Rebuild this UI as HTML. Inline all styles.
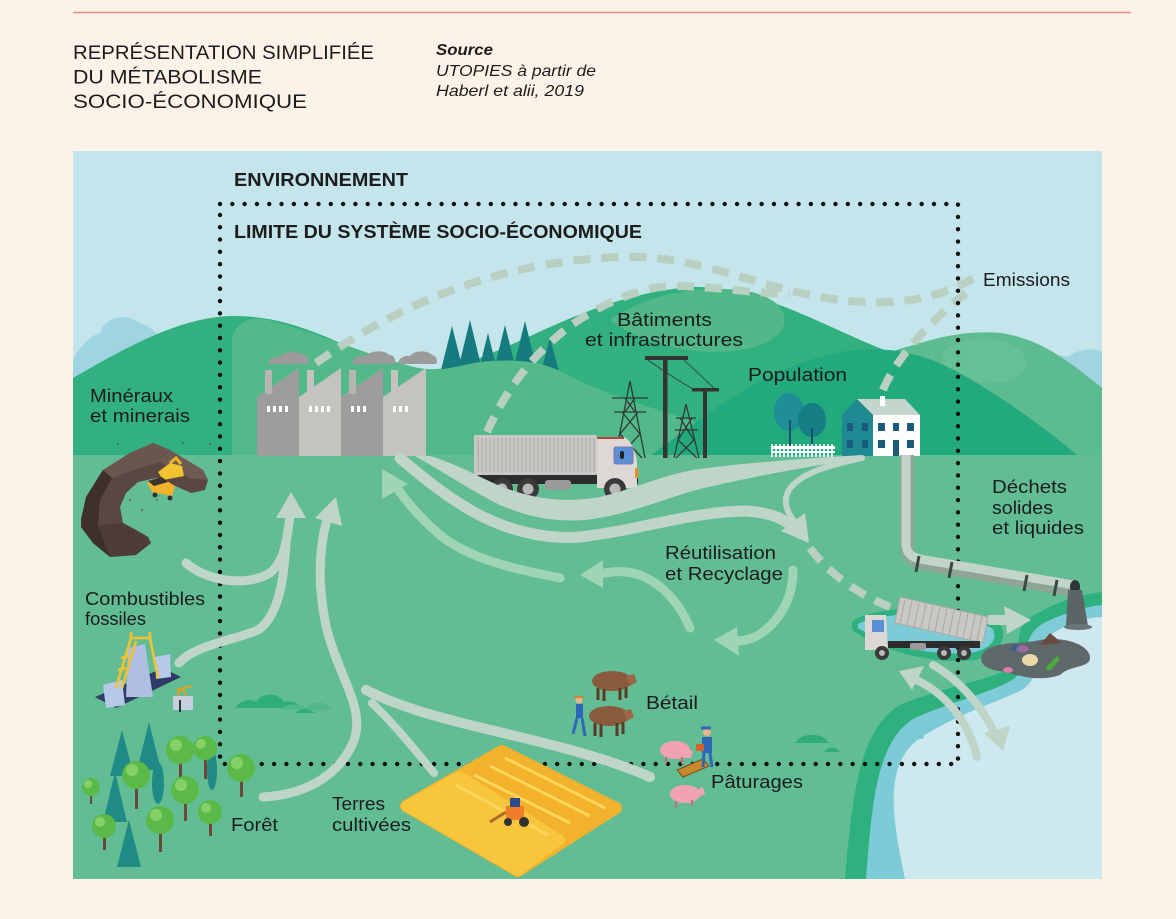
<!DOCTYPE html>
<html><head><meta charset="utf-8"><style>
html,body{margin:0;padding:0;background:#fdf2e8;}
svg{display:block;}
text{font-family:"Liberation Sans",sans-serif;fill:#1c1c1c;}
</style></head><body>
<svg width="1176" height="919" viewBox="0 0 1176 919" xmlns="http://www.w3.org/2000/svg">
<rect width="1176" height="919" fill="#fdf2e8"/>
<line x1="73" y1="12.5" x2="1131" y2="12.5" stroke="#f08a8a" stroke-width="1.5"/>

<!-- header text -->
<text x="73" y="59" font-size="19" textLength="301" lengthAdjust="spacingAndGlyphs" fill="#222">REPRÉSENTATION SIMPLIFIÉE</text>
<text x="73" y="83.5" font-size="19" textLength="189" lengthAdjust="spacingAndGlyphs" fill="#222">DU MÉTABOLISME</text>
<text x="73" y="108" font-size="19" textLength="234" lengthAdjust="spacingAndGlyphs" fill="#222">SOCIO-ÉCONOMIQUE</text>
<text x="436" y="55" font-size="16" font-weight="bold" font-style="italic" textLength="57" lengthAdjust="spacingAndGlyphs">Source</text>
<text x="436" y="76" font-size="16" font-style="italic" textLength="160" lengthAdjust="spacingAndGlyphs" fill="#333">UTOPIES à partir de</text>
<text x="436" y="96" font-size="16" font-style="italic" textLength="148" lengthAdjust="spacingAndGlyphs" fill="#333">Haberl et alii, 2019</text>

<!-- panel -->
<rect x="73" y="151" width="1029" height="728" fill="#c3e5eb"/>
<clipPath id="pc"><rect x="73" y="151" width="1029" height="728"/></clipPath>
<g clip-path="url(#pc)">
<!-- light blue bumps -->
<path d="M73,360 C80,345 92,335 100,333 C104,318 125,312 138,322 C150,326 160,335 165,345 L165,400 L73,400 Z" fill="#9fd5e2"/>
<path d="M1030,380 C1040,362 1055,352 1068,357 C1078,348 1095,348 1102,352 L1102,420 L1030,420 Z" fill="#9fd5e2"/>

<!-- big dark hill -->
<path d="M73,378 C130,345 180,318 230,316 C290,315 330,340 380,360 C420,372 440,372 470,362 C540,335 600,295 690,287 C760,285 830,330 890,352 C930,340 960,330 1000,333 C1040,340 1070,365 1102,388 L1102,456 L73,456 Z" fill="#33b07f"/>
<!-- crest lighter blob -->
<path d="M610,320 C640,298 690,285 740,290 C790,296 800,330 760,345 C720,360 650,350 610,320 Z" fill="#52b88a"/>
<!-- right hill lighter -->
<path d="M888,354 C930,338 965,330 1000,333 C1040,338 1070,362 1102,388 L1102,456 L930,456 Z" fill="#5cbb90"/>
<path d="M945,350 C965,335 1000,335 1020,350 C1040,370 1010,385 985,383 C955,380 935,365 945,350 Z" fill="#66c096"/>

<!-- teal conifers -->
<g fill="#167b7e">
<polygon points="452,326 438,382 466,382"/>
<polygon points="470,320 455,382 485,382"/>
<polygon points="488,333 476,382 500,382"/>
<polygon points="505,325 491,382 519,382"/>
<polygon points="525,321 510,382 540,382"/>
<polygon points="550,338 536,390 564,390"/>
</g>

<!-- mid light green hill with factories -->
<path d="M232,345 C230,325 250,314 268,320 C320,334 360,352 410,366 C440,374 455,366 480,362 C520,358 545,362 570,376 C620,402 700,420 760,445 L790,456 L232,456 Z" fill="#53b88a"/>
<!-- dark front hill right -->
<path d="M650,456 C700,420 760,368 840,352 C900,342 940,360 980,385 C1020,410 1050,432 1078,456 Z" fill="#22a97e"/>
<!-- ground -->
<rect x="73" y="455" width="1029" height="424" fill="#62bd95"/>

<!-- water -->
<path d="M845,879 C852,800 858,730 900,705 C940,688 990,680 1010,668 C1028,650 1005,628 1040,612 C1060,600 1085,594 1102,592 L1102,879 Z" fill="#2fb07f"/>
<path d="M866,879 C872,805 876,740 915,718 C950,702 995,692 1015,678 C1035,660 1015,635 1050,620 C1070,611 1090,606 1102,605 L1102,879 Z" fill="#7ecbd8"/>
<path d="M905,879 C893,820 882,765 920,738 C955,715 995,703 1022,690 C1048,672 1030,642 1062,628 C1080,620 1092,617 1102,617 L1102,879 Z" fill="#cde8ef"/>
<ellipse cx="913" cy="737" rx="11" ry="3" fill="#7ecbd8"/>
<ellipse cx="928" cy="731" rx="4" ry="1.3" fill="#7ecbd8"/>
<!-- truck patch -->
<path d="M852,622 C870,606 960,600 1000,625 C1010,640 995,655 975,660 C930,665 880,650 852,630 Z" fill="#2fb07f"/>
<path d="M858,624 C880,612 955,608 992,628 C1000,640 988,650 970,653 C930,656 885,645 858,628 Z" fill="#7ecbd8"/>

<!-- bushes -->
<g fill="#2fae7c">
<path d="M235,708 C240,700 250,698 256,702 C262,692 278,692 284,702 C292,700 300,704 302,708 Z"/>
<path d="M280,710 C288,703 300,703 306,708 C312,700 326,700 332,710 Z" fill="#52b88a"/>
<path d="M295,713 C300,708 310,708 315,713 Z"/>
<path d="M795,743 C800,733 822,731 829,743 Z"/>
<path d="M824,752 C828,746 836,746 840,752 Z"/>
</g>

<!-- dashed emissions -->
<g fill="none" stroke="#b9cfc1" stroke-width="8" stroke-dasharray="17 11">
<path d="M316,363 C380,318 480,262 620,257 C700,254 760,290 840,300 C900,307 940,298 978,276"/>
<path d="M487,432 C510,380 560,310 653,288 C690,282 730,292 790,294"/>
<path d="M883,390 C895,360 930,320 970,290"/>
<path d="M810,548 C830,575 860,595 890,607"/>
</g>

<!-- factories -->
<g>
<path d="M257,456 L257,397 L299,368 L299,456 Z" fill="#9d9d9d"/>
<path d="M299,456 L299,397 L341,368 L341,456 Z" fill="#c4c3c0"/>
<path d="M341,456 L341,397 L383,368 L383,456 Z" fill="#9d9d9d"/>
<path d="M383,456 L383,397 L426,368 L426,456 Z" fill="#c4c3c0"/>
<rect x="265" y="370" width="7" height="24" fill="#b6b5b2"/>
<rect x="307" y="370" width="7" height="24" fill="#c4c3c0"/>
<rect x="349" y="370" width="7" height="24" fill="#b6b5b2"/>
<rect x="391" y="370" width="7" height="24" fill="#c4c3c0"/>
<g fill="#fff">
<rect x="267" y="406" width="3" height="6"/><rect x="273" y="406" width="3" height="6"/><rect x="279" y="406" width="3" height="6"/><rect x="285" y="406" width="3" height="6"/>
<rect x="309" y="406" width="3" height="6"/><rect x="315" y="406" width="3" height="6"/><rect x="321" y="406" width="3" height="6"/><rect x="327" y="406" width="3" height="6"/>
<rect x="351" y="406" width="3" height="6"/><rect x="357" y="406" width="3" height="6"/><rect x="363" y="406" width="3" height="6"/>
<rect x="393" y="406" width="3" height="6"/><rect x="399" y="406" width="3" height="6"/><rect x="405" y="406" width="3" height="6"/>
</g>
<g fill="#9b9b9b">
<path d="M268,364 C268,358 276,356 280,357 C284,351 296,350 300,354 C306,353 310,358 308,364 Z"/>
<path d="M352,364 C352,357 362,355 366,356 C370,350 386,350 389,355 C395,355 396,360 394,364 Z"/>
<path d="M398,364 C398,358 406,355 410,356 C414,350 428,350 432,355 C437,356 438,361 436,364 Z"/>
</g>
</g>

<!-- pylons -->
<g stroke="#2e3b37" stroke-width="1.3" fill="none">
<path d="M630,381 L615,458 M630,381 L645,458 M612,398 L648,398 M614,412 L646,412 M625,398 L635,412 M635,398 L625,412 M622,412 L640,434 L618,458 M638,412 L620,434 L642,458"/>
<path d="M686,404 L674,458 M686,404 L699,458 M676,418 L696,418 M675,430 L698,430 M680,418 L694,440 L676,458 M692,418 L678,440 L697,458"/>
<path d="M648,360 C665,372 680,382 695,390 M684,360 C695,370 705,380 716,390" stroke-width="0.8"/>
</g>
<rect x="663" y="359" width="4.5" height="99" fill="#333"/>
<rect x="645" y="356" width="43" height="4" fill="#333"/>
<rect x="703" y="390" width="4" height="68" fill="#333"/>
<rect x="692" y="388" width="27" height="3.5" fill="#333"/>

<!-- big truck -->
<g>
<rect x="474" y="435" width="123" height="40" rx="2" fill="#c9c8c5"/>
<g stroke="#a9a8a5" stroke-width="1">
<path d="M478,438 V472 M482,438 V472 M486,438 V472 M490,438 V472 M494,438 V472 M498,438 V472 M502,438 V472 M506,438 V472 M510,438 V472 M514,438 V472 M518,438 V472 M522,438 V472 M526,438 V472 M530,438 V472 M534,438 V472 M538,438 V472 M542,438 V472 M546,438 V472 M550,438 V472 M554,438 V472 M558,438 V472 M562,438 V472 M566,438 V472 M570,438 V472 M574,438 V472 M578,438 V472 M582,438 V472 M586,438 V472 M590,438 V472 M594,438 V472"/>
</g>
<rect x="478" y="475" width="160" height="9" fill="#2c2c2c"/>
<path d="M597,437 L624,437 C631,440 636,452 637,462 L637,488 L597,488 Z" fill="#dcd9d5"/>
<rect x="597" y="437" width="27" height="2" fill="#b3473e"/>
<rect x="614" y="447" width="19" height="17" rx="2" fill="#5b8fd6" stroke="#8a6fae" stroke-width="1"/>
<rect x="620" y="451" width="4" height="8" rx="2" fill="#222"/>
<rect x="635" y="468" width="3" height="10" fill="#f08b2a"/>
<rect x="545" y="480" width="26" height="10" rx="3" fill="#9a9a9a"/>
<circle cx="502" cy="489" r="11" fill="#3a3a3a"/><circle cx="502" cy="489" r="5.5" fill="#b8b8b8"/>
<circle cx="528" cy="489" r="11" fill="#3a3a3a"/><circle cx="528" cy="489" r="5.5" fill="#b8b8b8"/>
<circle cx="615" cy="489" r="11" fill="#3a3a3a"/><circle cx="615" cy="489" r="5.5" fill="#b8b8b8"/>
</g>

<!-- population -->
<g>
<ellipse cx="789" cy="412" rx="15" ry="19" fill="#1f8e97"/>
<ellipse cx="812" cy="420" rx="14" ry="17" fill="#167d85"/>
<path d="M790,420 V446 M812,428 V446" stroke="#1d4f73" stroke-width="2"/>
<rect x="771" y="446" width="64" height="3" fill="#fff"/>
<rect x="771" y="451" width="64" height="2" fill="#fff"/>
<g stroke="#fff" stroke-width="1.6">
<path d="M772,444 V457 M776,444 V457 M780,444 V457 M784,444 V457 M788,444 V457 M792,444 V457 M796,444 V457 M800,444 V457 M804,444 V457 M808,444 V457 M812,444 V457 M816,444 V457 M820,444 V457 M824,444 V457 M828,444 V457 M832,444 V457"/>
</g>
<path d="M842,456 L842,415 L857,399 L873,414 L873,456 Z" fill="#1f8a91"/>
<path d="M857,399 L905,399 L920,415 L873,415 Z" fill="#c4d5cb"/>
<rect x="880" y="396" width="5" height="10" fill="#fff"/>
<rect x="873" y="415" width="47" height="41" fill="#fff"/>
<g fill="#1b5a78">
<rect x="847" y="423" width="6" height="8"/><rect x="862" y="423" width="6" height="8"/>
<rect x="847" y="440" width="6" height="8"/><rect x="862" y="440" width="6" height="8"/>
<rect x="878" y="423" width="7" height="8"/><rect x="893" y="423" width="6" height="8"/><rect x="907" y="423" width="7" height="8"/>
<rect x="878" y="440" width="7" height="8"/><rect x="893" y="440" width="6" height="16"/><rect x="907" y="440" width="7" height="8"/>
</g>
</g>

<!-- dotted boundary -->
<path d="M220,204 H958 V764 H220 Z" fill="none" stroke="#111" stroke-width="4.4" stroke-linecap="round" stroke-dasharray="0.01 12.3"/>

<!-- grey flows -->
<g fill="none" stroke="#bfd5c8" stroke-linecap="round">
<path d="M186,563 C205,580 245,588 270,573 C286,560 287,535 290,517" stroke-width="9"/>
<path d="M179,663 C195,645 235,640 258,630 C280,615 284,575 286,545" stroke-width="9"/>
<path d="M263,797 C300,795 335,780 352,745 C368,712 340,680 327,630 C318,590 318,555 326,523" stroke-width="9"/>
<path d="M434,773 C415,750 395,725 372,703" stroke-width="8"/>
<path d="M650,777 C600,755 540,742 470,725 C430,715 395,705 366,690" stroke-width="10"/>
<path d="M400,458 C420,475 440,492 470,510 C505,530 545,540 580,537 C640,530 690,512 745,511 C765,512 778,516 788,523" stroke-width="11"/>
<path d="M862,458 C830,465 800,473 789,490 C782,502 788,514 795,522" stroke-width="6"/>
<path d="M990,620 L1008,620" stroke-width="10"/>
<path d="M977,757 C968,720 945,692 912,678" stroke-width="8"/>
<path d="M933,665 C960,680 985,710 995,735" stroke-width="8"/>
</g>
<g fill="#bfd5c8">
<path d="M862,455 C800,459 740,463 693,470 C660,476 640,487 600,497 C560,504 530,497 505,488 C480,478 460,465 430,456 L415,456 C440,470 470,490 500,505 C530,518 555,522 585,520 C630,515 665,498 700,489 C760,475 810,466 862,459 Z"/>
<polygon points="291,492 276,518 306,518"/>
<polygon points="336,497 315,518 342,526"/>
<polygon points="809,543 781,531 805,513"/>
<polygon points="1031,620 1004,606 1007,634"/>
<polygon points="899,671 924,666 912,690"/>
<polygon points="1003,751 984,733 1010,726"/>
</g>
<!-- mint flows -->
<g fill="none" stroke="#9fd5b5" stroke-linecap="round">
<path d="M560,578 C520,570 470,560 440,535 C420,518 405,500 395,485" stroke-width="9"/>
<path d="M690,628 C680,605 665,585 640,575 C625,570 612,571 600,574" stroke-width="9"/>
<path d="M793,570 C793,598 780,622 757,636 C748,640 742,641 734,641" stroke-width="9"/>
</g>
<g fill="#9fd5b5">
<polygon points="382,469 382,499 408,484"/>
<polygon points="580,575 603,560 603,588"/>
<polygon points="714,640 737,627 739,656"/>
</g>

<!-- pipe -->
<path d="M907,455 L907,546 Q907,560 922,563 L1074,590" fill="none" stroke="#8fa697" stroke-width="14"/>
<path d="M906,455 L906,544 Q906,556 920,559 L1074,585" fill="none" stroke="#c3d4c8" stroke-width="9"/>
<g stroke="#3a4844" stroke-width="3" fill="none">
<path d="M919,556 L916,572 M952,562 L949,578 M1027,575 L1024,591 M1057,580 L1054,596"/>
</g>
<ellipse cx="1075" cy="587" rx="5" ry="7" fill="#2d3636"/>
<path d="M1068,590 L1082,590 L1088,626 L1066,626 Z" fill="#5b6467"/>
<ellipse cx="1078" cy="627" rx="14" ry="3" fill="#6b7477"/>

<!-- garbage pond -->
<path d="M982,655 C990,640 1020,645 1040,640 C1065,636 1090,645 1090,658 C1090,668 1070,665 1060,675 C1040,682 1020,676 1005,672 C990,670 978,666 982,655 Z" fill="#5e6769"/>
<path d="M1008,650 l8,-6 l6,8 z" fill="#3b5e8e"/>
<path d="M1016,650 c2,-6 12,-6 13,0 c-3,3 -10,3 -13,0 z" fill="#9a6aa0"/>
<path d="M1040,645 l10,-12 l12,10 z" fill="#6b4a40"/>
<ellipse cx="1030" cy="660" rx="8" ry="6" fill="#e8d9a6"/>
<path d="M1045,668 l12,-12 l3,3 l-10,12 z" fill="#4caa3c"/>
<ellipse cx="1008" cy="670" rx="5" ry="3" fill="#d97aa9"/>

<!-- dump truck -->
<g>
<polygon points="900,597 988,617 983,643 895,623" fill="#c9c8c5" stroke="#a9a8a5" stroke-width="1"/>
<g stroke="#a9a8a5" stroke-width="1"><path d="M905,600 L900,624 M912,601 L907,626 M919,603 L914,627 M926,604 L921,629 M933,606 L928,630 M940,607 L935,632 M947,609 L942,634 M954,610 L949,635 M961,612 L956,637 M968,613 L963,638 M975,615 L970,640 M982,616 L977,641"/></g>
<rect x="888" y="641" width="92" height="7" fill="#2c2c2c"/>
<path d="M865,615 L886,615 L888,650 L865,650 Z" fill="#dcd9d5"/>
<rect x="872" y="620" width="12" height="12" fill="#5b8fd6"/>
<rect x="910" y="643" width="16" height="7" rx="2" fill="#9a9a9a"/>
<circle cx="882" cy="653" r="7" fill="#3a3a3a"/><circle cx="882" cy="653" r="3" fill="#b8b8b8"/>
<circle cx="944" cy="653" r="7" fill="#3a3a3a"/><circle cx="944" cy="653" r="3" fill="#b8b8b8"/>
<circle cx="964" cy="653" r="7" fill="#3a3a3a"/><circle cx="964" cy="653" r="3" fill="#b8b8b8"/>
</g>

<!-- mine rock (crescent) -->
<g>
<path d="M81,520 L86,497 L103,470 L130,453 L153,443 L170,450 L203,470 L208,480 L205,490 L191,493 L180,488 L156,478 L138,482 L126,493 L120,507 L123,523 L136,530 L148,537 L151,543 L136,555 L110,557 L93,543 L81,527 Z" fill="#5a4741"/>
<path d="M81,520 L86,497 L103,470 L112,478 L100,500 L98,525 L110,557 L93,543 L81,527 Z" fill="#3f302c"/>
<path d="M103,470 L130,453 L153,443 L170,450 L160,462 L140,468 L112,478 Z" fill="#6a564e"/>
<path d="M170,450 L203,470 L208,480 L190,478 L160,462 Z" fill="#6e5a52"/>
<path d="M98,525 L123,523 L136,530 L148,537 L151,543 L136,555 L110,557 Z" fill="#4d3c37"/>
<g fill="#4a3a35"><circle cx="118" cy="444" r="0.8"/><circle cx="130" cy="500" r="0.8"/><circle cx="142" cy="510" r="0.8"/><circle cx="157" cy="500" r="0.8"/><circle cx="183" cy="443" r="0.8"/><circle cx="210" cy="444" r="0.8"/></g>
<path d="M158,472 L170,463 L182,466 L184,476 L163,480 Z" fill="#f2c230"/>
<path d="M170,463 L176,458 L181,464" stroke="#f2b22a" stroke-width="3" fill="none"/>
<path d="M147,482 L162,478 L175,486 L172,496 L152,492 Z" fill="#f2b22a"/>
<path d="M148,481 L162,477 L168,482 L154,486 Z" fill="#3d3430"/>
<circle cx="155" cy="495" r="2.5" fill="#333"/><circle cx="170" cy="498" r="2.5" fill="#333"/>
</g>

<!-- fossil mine -->
<g>
<polygon points="95,697 163,668 181,677 116,708" fill="#2f3b66"/>
<polygon points="103,685 122,680 125,705 106,708" fill="#b7c9e8"/>
<polygon points="128,648 145,644 153,697 126,697" fill="#aebfe3"/>
<polygon points="155,657 170,654 171,677 156,679" fill="#b7c9e8"/>
<g stroke="#f1c232" stroke-width="2.6" fill="none">
<path d="M116,688 L131,638 L150,638 L158,678 M122,688 L136,641 M131,638 L131,632 M150,638 L150,632 M118,670 L126,668 M121,658 L129,656"/>
</g>
<rect x="173" y="696" width="20" height="14" fill="#c6cfe0"/>
<path d="M177,696 L182,688 L186,696 M176,690 L192,686" stroke="#d9a52b" stroke-width="2" fill="none"/>
<path d="M180,700 V712" stroke="#333" stroke-width="2"/>
</g>

<!-- forest -->
<g>
<g fill="#6b4a3a">
<rect x="90" y="790" width="2" height="14"/><rect x="135" y="783" width="3" height="26"/><rect x="179" y="757" width="3" height="26"/>
<rect x="204" y="755" width="3" height="24"/><rect x="184" y="795" width="3" height="26"/><rect x="159" y="826" width="3" height="26"/>
<rect x="103" y="832" width="3" height="18"/><rect x="209" y="818" width="3" height="18"/><rect x="240" y="775" width="3" height="22"/>
</g>
<g fill="#1f8a86">
<polygon points="122,730 110,776 134,776"/><polygon points="149,722 137,770 161,770"/>
<polygon points="115,772 103,822 127,822"/><polygon points="129,820 117,867 141,867"/>
<ellipse cx="158" cy="783" rx="6" ry="21"/><ellipse cx="212" cy="770" rx="5" ry="20"/>
</g>
<g fill="#5bb948">
<circle cx="91" cy="787" r="9"/><circle cx="136" cy="775" r="14"/><circle cx="180" cy="750" r="14"/>
<circle cx="205" cy="748" r="12"/><circle cx="185" cy="790" r="14"/><circle cx="160" cy="820" r="14"/>
<circle cx="104" cy="826" r="12"/><circle cx="210" cy="812" r="12"/><circle cx="241" cy="768" r="14"/>
</g>
<g fill="#86d06a">
<circle cx="88" cy="784" r="4"/><circle cx="132" cy="770" r="6"/><circle cx="176" cy="745" r="6"/>
<circle cx="201" cy="744" r="5"/><circle cx="181" cy="785" r="6"/><circle cx="156" cy="815" r="6"/>
<circle cx="100" cy="822" r="5"/><circle cx="206" cy="808" r="5"/><circle cx="237" cy="763" r="6"/>
</g>
</g>

<!-- field -->
<g>
<polygon points="406,806 502,751 616,808 518,871" fill="#f2b22b" stroke="#f2b22b" stroke-width="12" stroke-linejoin="round"/>
<polygon points="406,806 460,776 560,840 518,871" fill="#f8c63c" stroke="#f8c63c" stroke-width="10" stroke-linejoin="round"/>
<g stroke="#fcd55a" stroke-width="3">
<path d="M505,758 L605,808 M490,766 L590,816 M474,775 L570,823 M456,785 L548,835"/>
</g>
<rect x="506" y="806" width="18" height="14" fill="#f07d2a"/>
<rect x="510" y="798" width="10" height="9" fill="#2d4d8a"/>
<circle cx="508" cy="822" r="4" fill="#333"/><circle cx="524" cy="822" r="5" fill="#333"/>
<path d="M506,812 L490,822" stroke="#b06a2a" stroke-width="3"/>
</g>

<!-- cows & farmer -->
<g>
<ellipse cx="612" cy="681" rx="20" ry="10" fill="#8a5a3c"/>
<path d="M626,676 l8,-2 l3,8 l-7,4 z" fill="#9a6747"/>
<path d="M598,688 V700 M604,689 V701 M620,688 V700 M626,687 V698" stroke="#5a3a27" stroke-width="3"/>
<ellipse cx="609" cy="716" rx="20" ry="10" fill="#8a5a3c"/>
<path d="M623,711 l8,-2 l3,8 l-7,4 z" fill="#9a6747"/>
<path d="M595,723 V736 M601,724 V737 M617,723 V736 M623,722 V734" stroke="#5a3a27" stroke-width="3"/>
<circle cx="579" cy="700" r="3.5" fill="#e9b48a"/>
<path d="M574,697 h10" stroke="#c98a3a" stroke-width="2"/>
<path d="M576,704 h7 v14 h-7 z" fill="#2f67b8"/>
<path d="M577,718 L573,734 M582,718 L585,736" stroke="#2f67b8" stroke-width="3"/>
</g>
<!-- pigs & farmer -->
<g fill="#f2a3b3">
<ellipse cx="675" cy="750" rx="15" ry="9"/>
<path d="M686,748 l7,3 l-2,7 l-7,0 z"/>
<ellipse cx="685" cy="794" rx="15" ry="9"/>
<path d="M696,790 l7,-3 l2,7 l-6,3 z"/>
</g>
<path d="M666,757 V764 M682,757 V764 M676,801 V808 M692,800 V806" stroke="#c07080" stroke-width="2"/>
<polygon points="677,770 703,759 709,766 683,777" fill="#c98a2e" stroke="#7a4f1d" stroke-width="1"/>
<circle cx="707" cy="732" r="4" fill="#e9b48a"/>
<path d="M701,728 h10" stroke="#2f67b8" stroke-width="3"/>
<path d="M702,737 h10 v16 h-10 z" fill="#2f67b8"/>
<path d="M704,753 L703,767 M710,753 L712,767" stroke="#2f67b8" stroke-width="3"/>
<rect x="696" y="744" width="8" height="7" fill="#d0642a"/>
</g>

<!-- labels -->
<text x="234" y="186" font-size="18" font-weight="bold" textLength="174" lengthAdjust="spacingAndGlyphs" fill="#111">ENVIRONNEMENT</text>
<text x="234" y="238" font-size="18" font-weight="bold" textLength="408" lengthAdjust="spacingAndGlyphs" fill="#111">LIMITE DU SYSTÈME SOCIO-ÉCONOMIQUE</text>
<g font-size="18">
<text x="90" y="402" textLength="83" lengthAdjust="spacingAndGlyphs">Minéraux</text>
<text x="90" y="422" textLength="100" lengthAdjust="spacingAndGlyphs">et minerais</text>
<text x="85" y="605" textLength="120" lengthAdjust="spacingAndGlyphs">Combustibles</text>
<text x="85" y="625" textLength="61" lengthAdjust="spacingAndGlyphs">fossiles</text>
<text x="231" y="831" textLength="47" lengthAdjust="spacingAndGlyphs">Forêt</text>
<text x="332" y="810" textLength="53" lengthAdjust="spacingAndGlyphs">Terres</text>
<text x="332" y="831" textLength="79" lengthAdjust="spacingAndGlyphs">cultivées</text>
<text x="617" y="326" textLength="95" lengthAdjust="spacingAndGlyphs">Bâtiments</text>
<text x="585" y="346" textLength="158" lengthAdjust="spacingAndGlyphs">et infrastructures</text>
<text x="748" y="381" textLength="99" lengthAdjust="spacingAndGlyphs">Population</text>
<text x="983" y="286" textLength="87" lengthAdjust="spacingAndGlyphs">Emissions</text>
<text x="992" y="493" textLength="75" lengthAdjust="spacingAndGlyphs">Déchets</text>
<text x="992" y="514" textLength="61" lengthAdjust="spacingAndGlyphs">solides</text>
<text x="992" y="534" textLength="92" lengthAdjust="spacingAndGlyphs">et liquides</text>
<text x="665" y="559" textLength="111" lengthAdjust="spacingAndGlyphs">Réutilisation</text>
<text x="665" y="580" textLength="118" lengthAdjust="spacingAndGlyphs">et Recyclage</text>
<text x="646" y="709" textLength="52" lengthAdjust="spacingAndGlyphs">Bétail</text>
<text x="711" y="788" textLength="92" lengthAdjust="spacingAndGlyphs">Pâturages</text>
</g>
</svg>
</body></html>
